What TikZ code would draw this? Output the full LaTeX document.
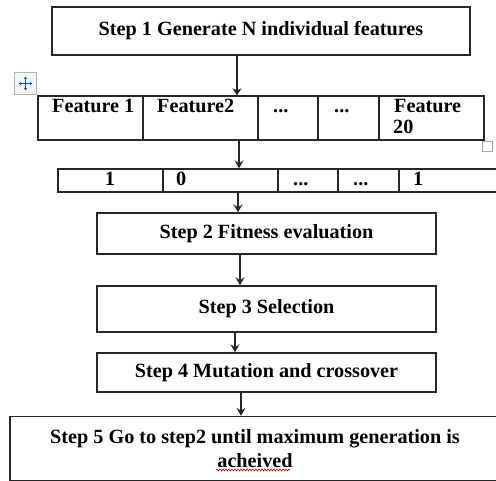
\documentclass[tikz,border=0pt]{standalone}
\usepackage{fontspec}
\setmainfont{Liberation Serif}
\usetikzlibrary{arrows.meta,decorations.pathmorphing,calc}
\begin{document}
\begin{tikzpicture}[x=1pt,y=-1pt,
  txt/.style={font=\fontsize{20.2}{24}\selectfont\bfseries, inner sep=0pt},
  box/.style={draw=black!85, line width=1.4pt, inner sep=0pt, txt, align=center},
  cell/.style={draw=black!85, line width=1.3pt, inner sep=0pt},
  arr/.style={draw=black!85, line width=1.1pt, -{Stealth[length=8pt,width=9pt,inset=3pt]}},
  thickarr/.style={draw=black!85, line width=2.8pt, -{Stealth[length=7pt,width=9pt,inset=2pt]}}
]
\useasboundingbox (0,0) rectangle (496,481);
\clip (0,0) rectangle (496,481);
\fill[white] (0,0) rectangle (496,481);

% Step boxes
\node[box, minimum width=418pt, minimum height=48pt] (s1) at (261,31) {Step 1 Generate N individual features};
\node[box, minimum width=339pt, minimum height=41pt] (s2) at (266.5,233.5) {Step 2 Fitness evaluation};
\node[box, minimum width=339pt, minimum height=46pt] (s3) at (266.5,309) {Step 3 Selection};
\node[box, minimum width=339pt, minimum height=39pt] (s4) at (266.5,372.5) {Step 4 Mutation and crossover};
\node[box, minimum width=490pt, minimum height=64pt] (s5) at (255,448.5) {Step 5 Go to step2 until maximum generation is\\acheived};

% Feature table
\node[cell, minimum width=105pt, minimum height=44pt] (f1) at (90.5,118) {};
\node[cell, minimum width=115pt, minimum height=44pt] (f2) at (200.5,118) {};
\node[cell, minimum width=60pt, minimum height=44pt] (f3) at (288,118) {};
\node[cell, minimum width=61pt, minimum height=44pt] (f4) at (348.5,118) {};
\node[cell, minimum width=105pt, minimum height=44pt] (f5) at (431.5,118) {};
\node[txt, anchor=base west] (t1) at (52,113) {Feature 1};
\node[txt, anchor=base west] (t2) at (157,113) {Feature2};
\node[txt, anchor=base west] (t3) at (273,113) {...};
\node[txt, anchor=base west] (t4) at (334,113) {...};
\node[txt, anchor=base west, align=left] (t5) at (394,113) {Feature};
\node[txt, anchor=base west] (t6) at (393,134) {20};

% Binary row
\node[cell, minimum width=105pt, minimum height=23pt] (b1) at (110.5,180.5) {};
\node[cell, minimum width=115pt, minimum height=23pt] (b2) at (220.5,180.5) {};
\node[cell, minimum width=60pt, minimum height=23pt] (b3) at (308,180.5) {};
\node[cell, minimum width=61pt, minimum height=23pt] (b4) at (368.5,180.5) {};
\node[cell, minimum width=120pt, minimum height=23pt] (b5) at (459,180.5) {};
\node[txt, anchor=base] (u1) at (110,186) {1};
\node[txt, anchor=base west] (u2) at (176,186) {0};
\node[txt, anchor=base west] (u3) at (293,186) {...};
\node[txt, anchor=base west] (u4) at (353,186) {...};
\node[txt, anchor=base west] (u5) at (413,186) {1};

% connectors
\coordinate (x1) at (237,0);
\coordinate (x2) at (239,0);
\coordinate (x3) at (238,0);
\coordinate (x4) at (240,0);
\coordinate (x5) at (235,0);
\coordinate (x6) at (241,0);
\draw[thickarr] (s1.south -| x1) -- (f2.north -| x1);
\draw[arr] (f2.south -| x2) -- (b2.north -| x2);
\draw[arr] (b2.south -| x3) -- (s2.north -| x3);
\draw[arr] (s2.south -| x4) -- (s3.north -| x4);
\draw[arr] (s3.south -| x5) -- (s4.north -| x5);
\draw[arr] (s4.south -| x6) -- (s5.north -| x6);

% red wavy underline
\draw[red!80!black, line width=0.6pt, decorate, decoration={snake, amplitude=1pt, segment length=3pt}] (216,470) -- (290,470);

% Word move handle
\node[draw=black!30, fill=black!4, line width=1pt, minimum size=22pt, inner sep=0pt] (mv) at (25.5,83.5) {};
\draw[blue!60!cyan!80!black, line width=1.2pt, {Latex[length=2.5pt,width=3.5pt]}-{Latex[length=2.5pt,width=3.5pt]}] ($(mv.center)+(-7,0)$) -- ($(mv.center)+(7,0)$);
\draw[blue!60!cyan!80!black, line width=1.2pt, {Latex[length=2.5pt,width=3.5pt]}-{Latex[length=2.5pt,width=3.5pt]}] ($(mv.center)+(0,-7)$) -- ($(mv.center)+(0,7)$);
% Word resize handle
\node[draw=black!35, fill=white, line width=1pt, minimum size=10pt, inner sep=0pt] (rs) at (487,146.5) {};
\end{tikzpicture}
\end{document}
